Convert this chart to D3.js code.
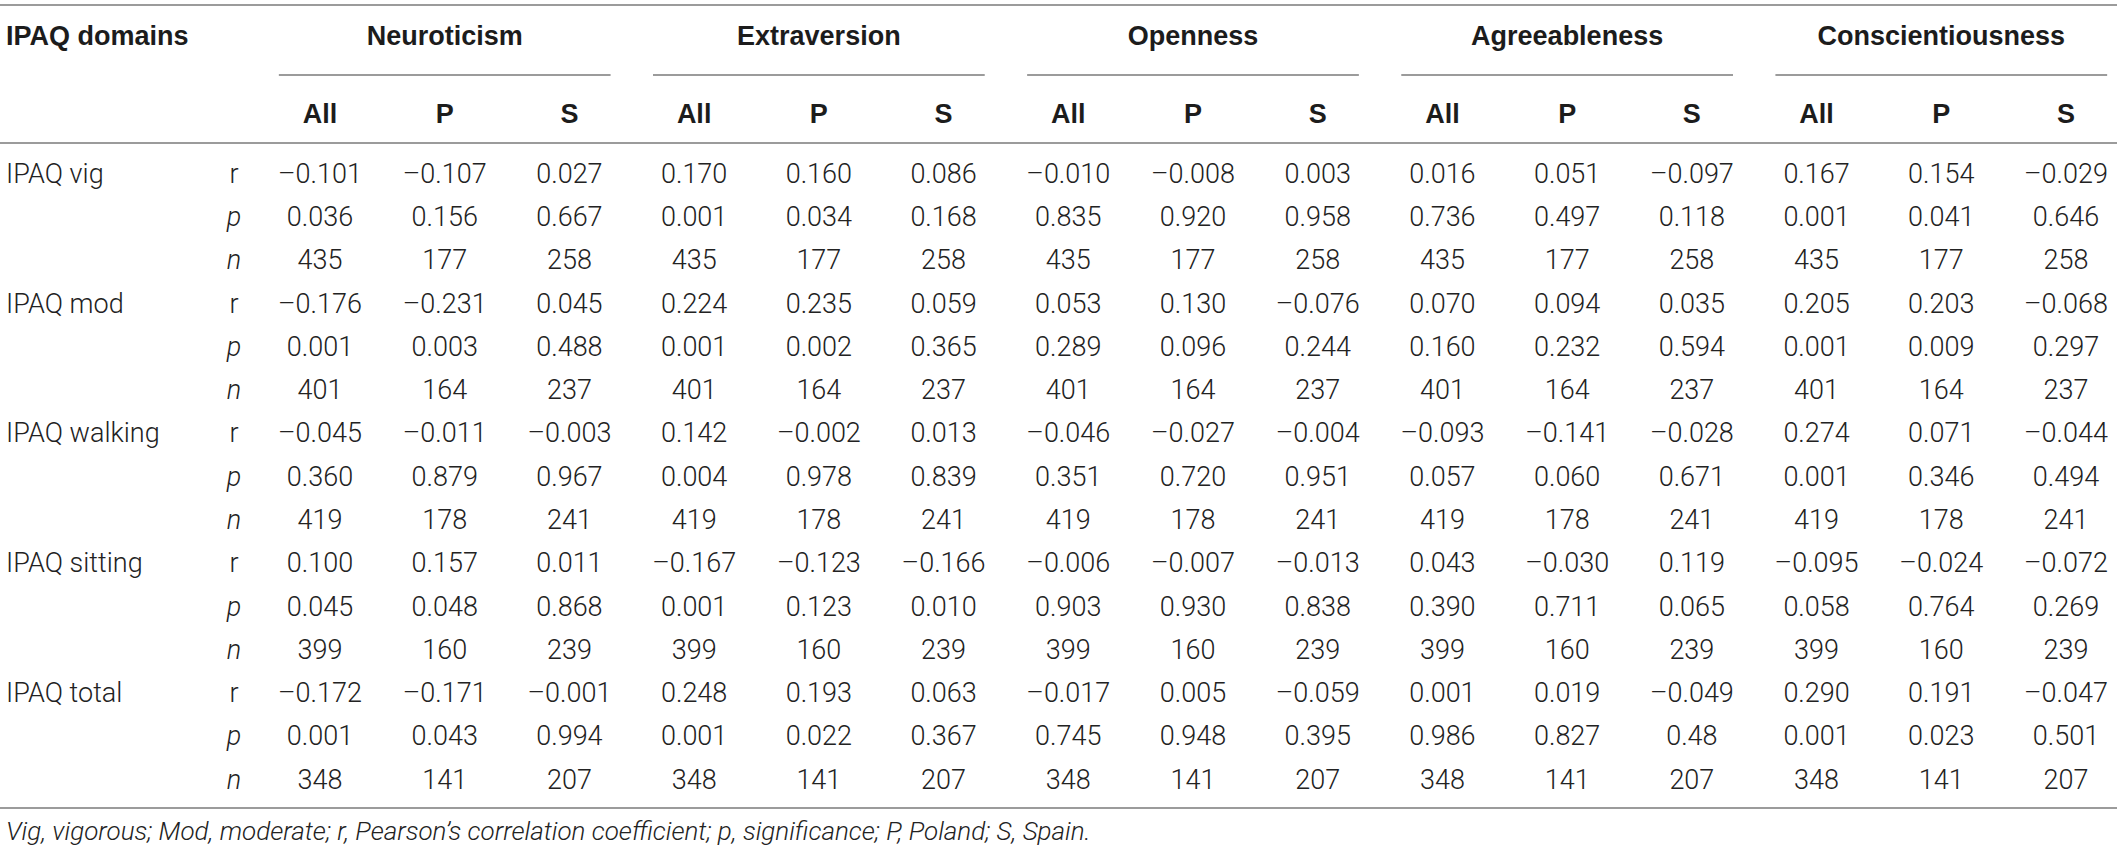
<!DOCTYPE html>
<html>
<head>
<meta charset="utf-8">
<script src="https://cdn.jsdelivr.net/npm/d3@7"></script>
<style>
  body { margin: 0; background: #fff; }
  .head { font-family: "Liberation Sans", Arial, sans-serif; font-weight: 700; font-size: 27px; fill: #1c1c1c; }
  .cell { font-family: Roboto, "Liberation Sans", sans-serif; font-weight: 300; font-size: 27px; fill: #222; }
  .note { font-family: Roboto, "Liberation Sans", sans-serif; font-weight: 300; font-style: italic; font-size: 26px; fill: #222; }
</style>
</head>
<body>
<svg id="table"></svg>
<script>
const traits = ['Neuroticism', 'Extraversion', 'Openness', 'Agreeableness', 'Conscientiousness'];
const groups = ['All', 'P', 'S'];
const domains = ['IPAQ vig', 'IPAQ mod', 'IPAQ walking', 'IPAQ sitting', 'IPAQ total'];
const stats = ['r', 'p', 'n'];

const vigR = ['-0.101','-0.107','0.027','0.170','0.160','0.086','-0.010','-0.008','0.003','0.016','0.051','-0.097','0.167','0.154','-0.029'];
const vigP = ['0.036','0.156','0.667','0.001','0.034','0.168','0.835','0.920','0.958','0.736','0.497','0.118','0.001','0.041','0.646'];
const vigN = ['435','177','258','435','177','258','435','177','258','435','177','258','435','177','258'];

const modR = ['-0.176','-0.231','0.045','0.224','0.235','0.059','0.053','0.130','-0.076','0.070','0.094','0.035','0.205','0.203','-0.068'];
const modP = ['0.001','0.003','0.488','0.001','0.002','0.365','0.289','0.096','0.244','0.160','0.232','0.594','0.001','0.009','0.297'];
const modN = ['401','164','237','401','164','237','401','164','237','401','164','237','401','164','237'];

const walkR = ['-0.045','-0.011','-0.003','0.142','-0.002','0.013','-0.046','-0.027','-0.004','-0.093','-0.141','-0.028','0.274','0.071','-0.044'];
const walkP = ['0.360','0.879','0.967','0.004','0.978','0.839','0.351','0.720','0.951','0.057','0.060','0.671','0.001','0.346','0.494'];
const walkN = ['419','178','241','419','178','241','419','178','241','419','178','241','419','178','241'];

const sitR = ['0.100','0.157','0.011','-0.167','-0.123','-0.166','-0.006','-0.007','-0.013','0.043','-0.030','0.119','-0.095','-0.024','-0.072'];
const sitP = ['0.045','0.048','0.868','0.001','0.123','0.010','0.903','0.930','0.838','0.390','0.711','0.065','0.058','0.764','0.269'];
const sitN = ['399','160','239','399','160','239','399','160','239','399','160','239','399','160','239'];

const totR = ['-0.172','-0.171','-0.001','0.248','0.193','0.063','-0.017','0.005','-0.059','0.001','0.019','-0.049','0.290','0.191','-0.047'];
const totP = ['0.001','0.043','0.994','0.001','0.022','0.367','0.745','0.948','0.395','0.986','0.827','0.48','0.001','0.023','0.501'];
const totN = ['348','141','207','348','141','207','348','141','207','348','141','207','348','141','207'];

const footnote = 'Vig, vigorous; Mod, moderate; r, Pearson\u2019s correlation coefficient; p, significance; P, Poland; S, Spain.';

// ---- layout ----
const width = 2117, height = 853;
const rowBlocks = [[vigR, vigP, vigN], [modR, modP, modN], [walkR, walkP, walkN], [sitR, sitP, sitN], [totR, totP, totN]];

const rows = [];
rowBlocks.forEach((block, di) => {
  block.forEach((vals, si) => {
    rows.push({ key: di + '-' + si, domain: si === 0 ? domains[di] : '', stat: stats[si], vals: vals });
  });
});

const columns = [];
traits.forEach(t => groups.forEach(g => columns.push(t + '|' + g)));

const x = d3.scalePoint().domain(columns).range([320, 2066]);
const y = d3.scalePoint().domain(rows.map(d => d.key)).range([173, 779]);
const statX = 234;
const colStep = x.step();

const svg = d3.select('#table')
  .attr('width', width)
  .attr('height', height);

// rules
const rules = [5, 143, 808];
svg.selectAll('.rule')
  .data(rules)
  .enter()
  .append('line')
  .attr('class', 'rule')
  .attr('x1', 0)
  .attr('x2', width)
  .attr('y1', d => d)
  .attr('y2', d => d)
  .attr('stroke', '#7a7a7a')
  .attr('stroke-width', 1.5);

// header row 1
svg.append('text')
  .attr('class', 'head')
  .attr('x', 6)
  .attr('y', 35)
  .attr('dy', '0.36em')
  .text('IPAQ domains');

svg.selectAll('.trait')
  .data(traits)
  .enter()
  .append('text')
  .attr('class', 'head trait')
  .attr('x', d => x(d + '|P'))
  .attr('y', 35)
  .attr('dy', '0.36em')
  .attr('text-anchor', 'middle')
  .text(d => d);

svg.selectAll('.trait-rule')
  .data(traits)
  .enter()
  .append('line')
  .attr('class', 'trait-rule')
  .attr('x1', d => x(d + '|P') - colStep * 1.33)
  .attr('x2', d => x(d + '|P') + colStep * 1.33)
  .attr('y1', 75)
  .attr('y2', 75)
  .attr('stroke', '#7a7a7a')
  .attr('stroke-width', 1.5);

// header row 2
svg.selectAll('.group')
  .data(columns)
  .enter()
  .append('text')
  .attr('class', 'head group')
  .attr('x', d => x(d))
  .attr('y', 113)
  .attr('dy', '0.36em')
  .attr('text-anchor', 'middle')
  .text(d => d.split('|')[1]);

// body
const row = svg.selectAll('.row')
  .data(rows)
  .enter()
  .append('g')
  .attr('class', 'row')
  .attr('transform', d => `translate(0,${y(d.key)})`);

row.append('text')
  .attr('class', 'cell')
  .attr('x', 6)
  .attr('dy', '0.36em')
  .text(d => d.domain);

row.append('text')
  .attr('class', 'cell')
  .attr('x', statX)
  .attr('dy', '0.36em')
  .attr('text-anchor', 'middle')
  .attr('font-style', d => d.stat === 'r' ? 'normal' : 'italic')
  .text(d => d.stat);

row.selectAll('.val')
  .data(d => d.vals.map((v, i) => ({ col: columns[i], v: v })))
  .enter()
  .append('text')
  .attr('class', 'cell val')
  .attr('x', d => x(d.col))
  .attr('dy', '0.36em')
  .attr('text-anchor', 'middle')
  .text(d => d.v.replace('-', '\u2013'));

// footnote
svg.append('text')
  .attr('class', 'note')
  .attr('x', 6)
  .attr('y', 831)
  .attr('dy', '0.36em')
  .text(footnote);
</script>
</body>
</html>
